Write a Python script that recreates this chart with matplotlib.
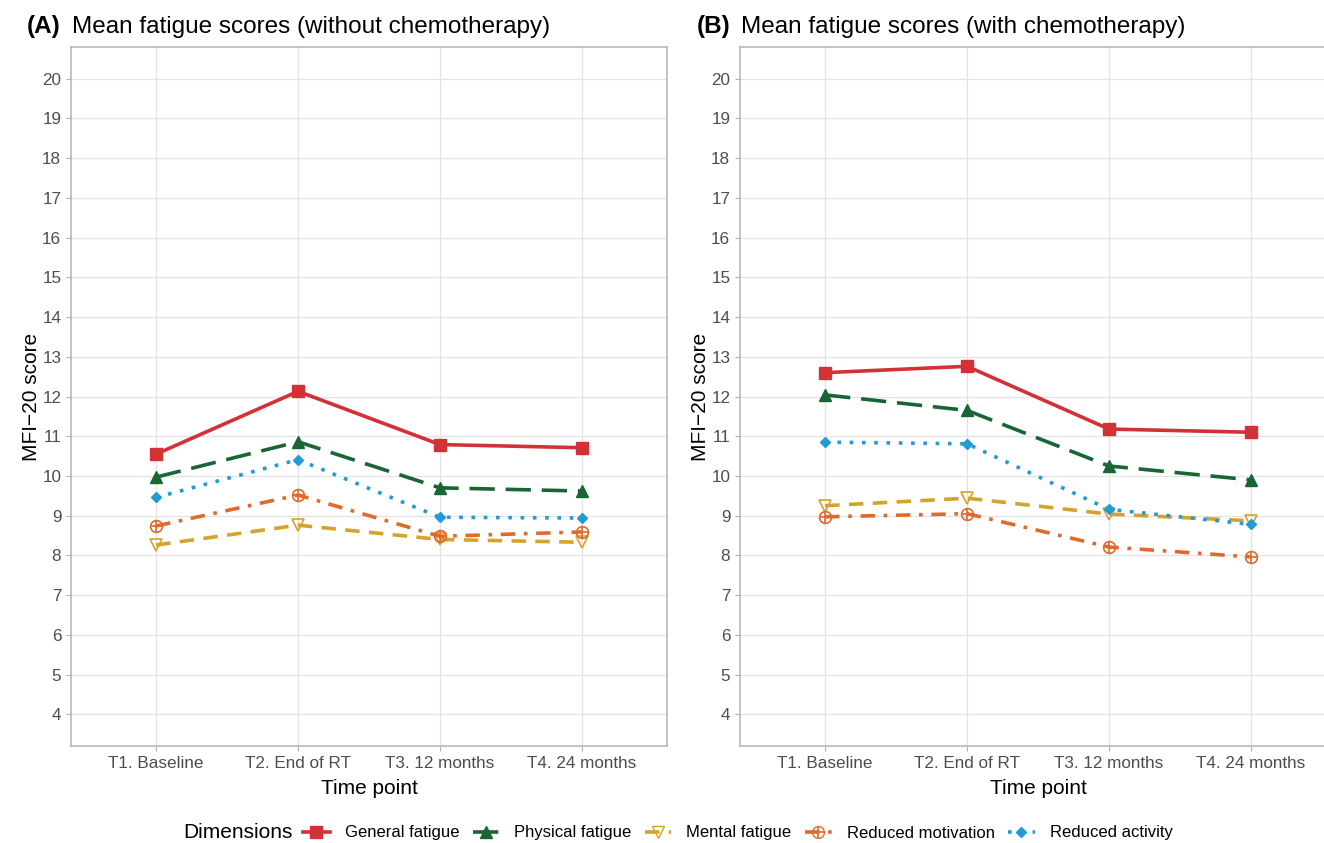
import matplotlib.pyplot as plt
from matplotlib.lines import Line2D
from matplotlib.legend_handler import HandlerTuple

plt.rcParams['font.family'] = ['Liberation Sans', 'DejaVu Sans']

time_points = ['T1. Baseline', 'T2. End of RT', 'T3. 12 months', 'T4. 24 months']
dimensions = ['General fatigue', 'Physical fatigue', 'Mental fatigue',
              'Reduced motivation', 'Reduced activity']

# panel A: without chemotherapy
no_chemo = {
    'General fatigue':    [10.55, 12.13, 10.79, 10.71],
    'Physical fatigue':   [9.97, 10.86, 9.70, 9.62],
    'Mental fatigue':     [8.26, 8.76, 8.40, 8.33],
    'Reduced motivation': [8.74, 9.52, 8.48, 8.59],
    'Reduced activity':   [9.46, 10.41, 8.96, 8.94],
}
# panel B: with chemotherapy
chemo = {
    'General fatigue':    [12.60, 12.76, 11.18, 11.10],
    'Physical fatigue':   [12.04, 11.65, 10.25, 9.90],
    'Mental fatigue':     [9.25, 9.44, 9.04, 8.87],
    'Reduced motivation': [8.97, 9.05, 8.21, 7.96],
    'Reduced activity':   [10.85, 10.81, 9.16, 8.78],
}

colors = {'General fatigue': '#d23236', 'Physical fatigue': '#176634',
          'Mental fatigue': '#d6a22a', 'Reduced motivation': '#df6a2b',
          'Reduced activity': '#1f9bd6'}
styles = {'General fatigue': '-', 'Physical fatigue': (0, (7, 3)),
          'Mental fatigue': (0, (4, 2.6)), 'Reduced motivation': (0, (4, 2.4, 1, 2.4)),
          'Reduced activity': (0, (1, 2.4))}
markers = {'General fatigue': ('s', 8.5, True), 'Physical fatigue': ('^', 9, True),
           'Mental fatigue': ('v', 9, False), 'Reduced motivation': ('o', 8.5, False),
           'Reduced activity': ('D', 5.5, True)}

fig = plt.figure(figsize=(13.24, 8.43), dpi=100)
ax_a = fig.add_axes([71 / 1324, 97 / 843, 596 / 1324, 699 / 843])
ax_b = fig.add_axes([740 / 1324, 97 / 843, 596 / 1324, 699 / 843])

x = list(range(1, 5))
for ax, data in [(ax_a, no_chemo), (ax_b, chemo)]:
    for d in dimensions:
        m, ms, filled = markers[d]
        c = colors[d]
        ax.plot(x, data[d], color=c, linestyle=styles[d], linewidth=2.6,
                marker=m, markersize=ms, markerfacecolor=c if filled else 'none',
                markeredgecolor=c, markeredgewidth=1.0 if filled else 1.2, zorder=3)
        if d == 'Reduced motivation':
            ax.plot(x, data[d], linestyle='none', marker='+', markersize=8.5,
                    markeredgecolor=c, markeredgewidth=1.2, zorder=4)
    ax.set_xlim(0.4, 4.6)
    ax.set_ylim(3.2, 20.8)
    ax.set_yticks(range(4, 21))
    ax.set_xticks(x)
    ax.set_xticklabels(time_points)
    ax.grid(True, color='#e3e3e3', linewidth=0.9, zorder=0)
    ax.set_axisbelow(True)
    for s in ax.spines.values():
        s.set_color('#b3b3b3')
        s.set_linewidth(1.1)
    ax.tick_params(colors='#b3b3b3', labelcolor='#4d4d4d', labelsize=12.3, length=3.5)
    ax.set_xlabel('Time point', fontsize=15, labelpad=6)
    ax.set_ylabel('MFI\u221220 score', fontsize=15, labelpad=1)

handles = []
for d in dimensions:
    m, ms, filled = markers[d]
    c = colors[d]
    h = Line2D([], [], color=c, linestyle=styles[d], linewidth=2.6, marker=m,
               markersize=ms, markerfacecolor=c if filled else 'none', markeredgecolor=c)
    if d == 'Reduced motivation':
        h = (h, Line2D([], [], linestyle='none', marker='+', markersize=8.5,
                       markeredgecolor=c, markeredgewidth=1.2))
    handles.append(h)

fig.legend(handles, dimensions, loc='center left', bbox_to_anchor=(303 / 1324, 1 - 833 / 843),
           ncol=5, frameon=False, fontsize=12, handlelength=1.6, columnspacing=0.8,
           handletextpad=0.9, borderpad=0, borderaxespad=0,
           handler_map={tuple: HandlerTuple(ndivide=1)})
fig.text(183 / 1324, 1 - 833 / 843, 'Dimensions', fontsize=15, va='center', ha='left')

for xl, xr, tag, title in [(27, 72, '(A)', 'Mean fatigue scores (without chemotherapy)'),
                           (697, 741, '(B)', 'Mean fatigue scores (with chemotherapy)')]:
    fig.text(xl / 1324, 1 - 27 / 843, tag, fontsize=17.5, fontweight='bold', va='center')
    fig.text(xr / 1324, 1 - 27 / 843, title, fontsize=17.5, va='center')

fig.savefig('out.png', dpi=100)
